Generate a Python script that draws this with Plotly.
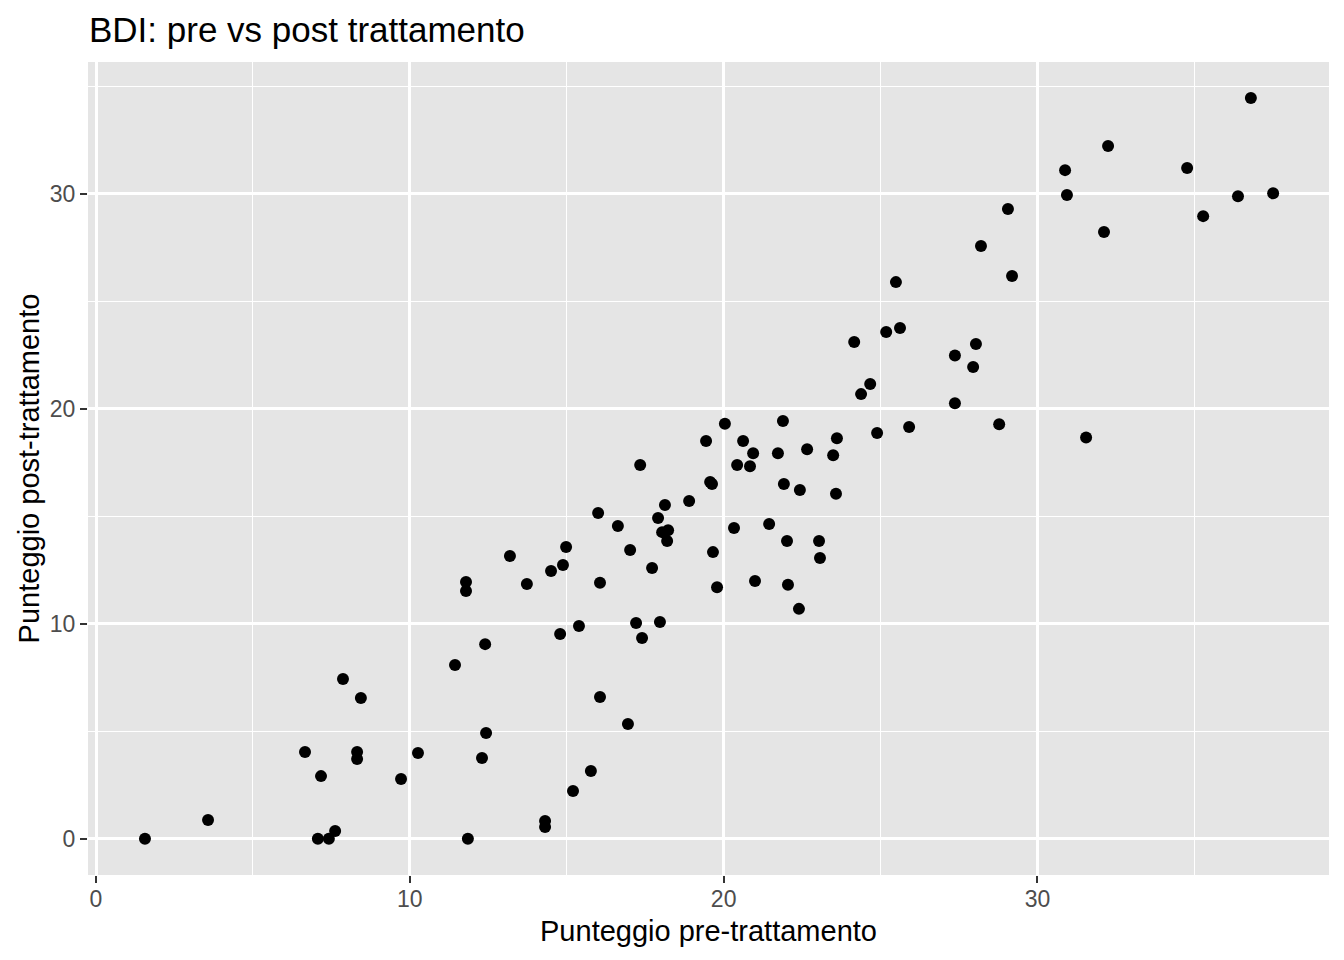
import plotly.graph_objects as go

title_text = "BDI: pre vs post trattamento"
x_label = "Punteggio pre-trattamento"
y_label = "Punteggio post-trattamento"

pre = [1.56, 3.57, 6.66, 7.17, 7.07, 7.42, 7.62, 7.87, 8.44, 8.32,
       8.32, 9.72, 10.26, 11.44, 11.79, 11.79, 11.85, 12.30, 12.40, 12.43,
       13.19, 13.73, 14.31, 14.31, 14.50, 14.88, 14.98, 14.79, 15.20, 15.39,
       15.77, 16.00, 16.06, 16.06, 16.63, 16.95, 17.02, 17.21, 17.34, 17.40,
       17.72, 17.91, 17.97, 18.04, 18.13, 18.23, 18.20, 18.90, 19.44, 19.57,
       19.63, 19.66, 19.79, 20.04, 20.33, 20.43, 20.62, 20.84, 20.94, 21.00,
       21.45, 21.73, 21.89, 21.92, 22.02, 22.05, 22.40, 22.43, 22.66, 23.04,
       23.07, 23.49, 23.61, 23.58, 24.16, 24.38, 24.67, 24.89, 25.18, 25.49,
       25.62, 25.91, 27.37, 27.37, 27.95, 28.04, 28.20, 28.78, 29.06, 29.19,
       30.88, 30.94, 31.55, 32.12, 32.25, 34.77, 35.28, 36.39, 36.80, 37.51]
post = [0.00, 0.87, 4.03, 2.91, 0.00, 0.00, 0.36, 7.43, 6.54, 4.03,
        3.71, 2.78, 3.99, 8.08, 11.94, 11.52, 0.00, 3.75, 9.05, 4.92,
        13.15, 11.85, 0.54, 0.82, 12.45, 12.73, 13.57, 9.52, 2.22, 9.89,
        3.15, 15.15, 11.90, 6.59, 14.54, 5.33, 13.43, 10.03, 17.38, 9.33,
        12.59, 14.92, 10.08, 14.26, 15.52, 14.35, 13.85, 15.71, 18.50, 16.59,
        16.50, 13.33, 11.70, 19.30, 14.45, 17.38, 18.50, 17.33, 17.93, 11.99,
        14.64, 17.93, 19.43, 16.50, 13.85, 11.81, 10.69, 16.22, 18.12, 13.85,
        13.06, 17.84, 18.63, 16.05, 23.10, 20.68, 21.15, 18.87, 23.57, 25.89,
        23.76, 19.15, 22.48, 20.26, 21.94, 23.01, 27.57, 19.28, 29.29, 26.17,
        31.10, 29.94, 18.66, 28.22, 32.22, 31.20, 28.96, 29.89, 34.46, 30.02]

font_family = "Liberation Sans, Arial, sans-serif"

W, H = 1336, 952

fig = go.Figure(go.Scatter(
    x=pre, y=post, mode="markers",
    marker=dict(color="black", size=12, line=dict(width=0)),
))

axis_common = dict(
    showgrid=True, gridcolor="white", gridwidth=2.7,
    zeroline=False, showline=False,
    ticks="outside", ticklen=7, tickwidth=2, tickcolor="#333333",
    tickfont=dict(family=font_family, size=23, color="#4D4D4D"),
    minor=dict(dtick=5, tick0=0, showgrid=True, gridcolor="white", gridwidth=1.4, ticks=""),
    tickmode="array", tickvals=[0, 10, 20, 30], ticktext=["0", "10", "20", "30"],
)

fig.update_layout(
    width=W, height=H,
    margin=dict(l=80, r=15, t=54, b=85),
    paper_bgcolor="white", plot_bgcolor="#E5E5E5",
    showlegend=False,
    title=dict(text=title_text, x=81 / W, xanchor="left", xref="container",
               y=1 - 22 / H, yanchor="middle", yref="container",
               font=dict(family=font_family, size=35, color="black")),
    xaxis=dict(range=[-0.255, 39.29], ticklabelstandoff=-4,
               title=dict(text=x_label, standoff=10,
                          font=dict(family=font_family, size=29, color="black")),
               **axis_common),
    yaxis=dict(range=[-1.69, 36.13], ticklabelstandoff=0,
               title=dict(text=y_label, standoff=1,
                          font=dict(family=font_family, size=29, color="black")),
               **axis_common),
)

fig.write_html("out.html")
